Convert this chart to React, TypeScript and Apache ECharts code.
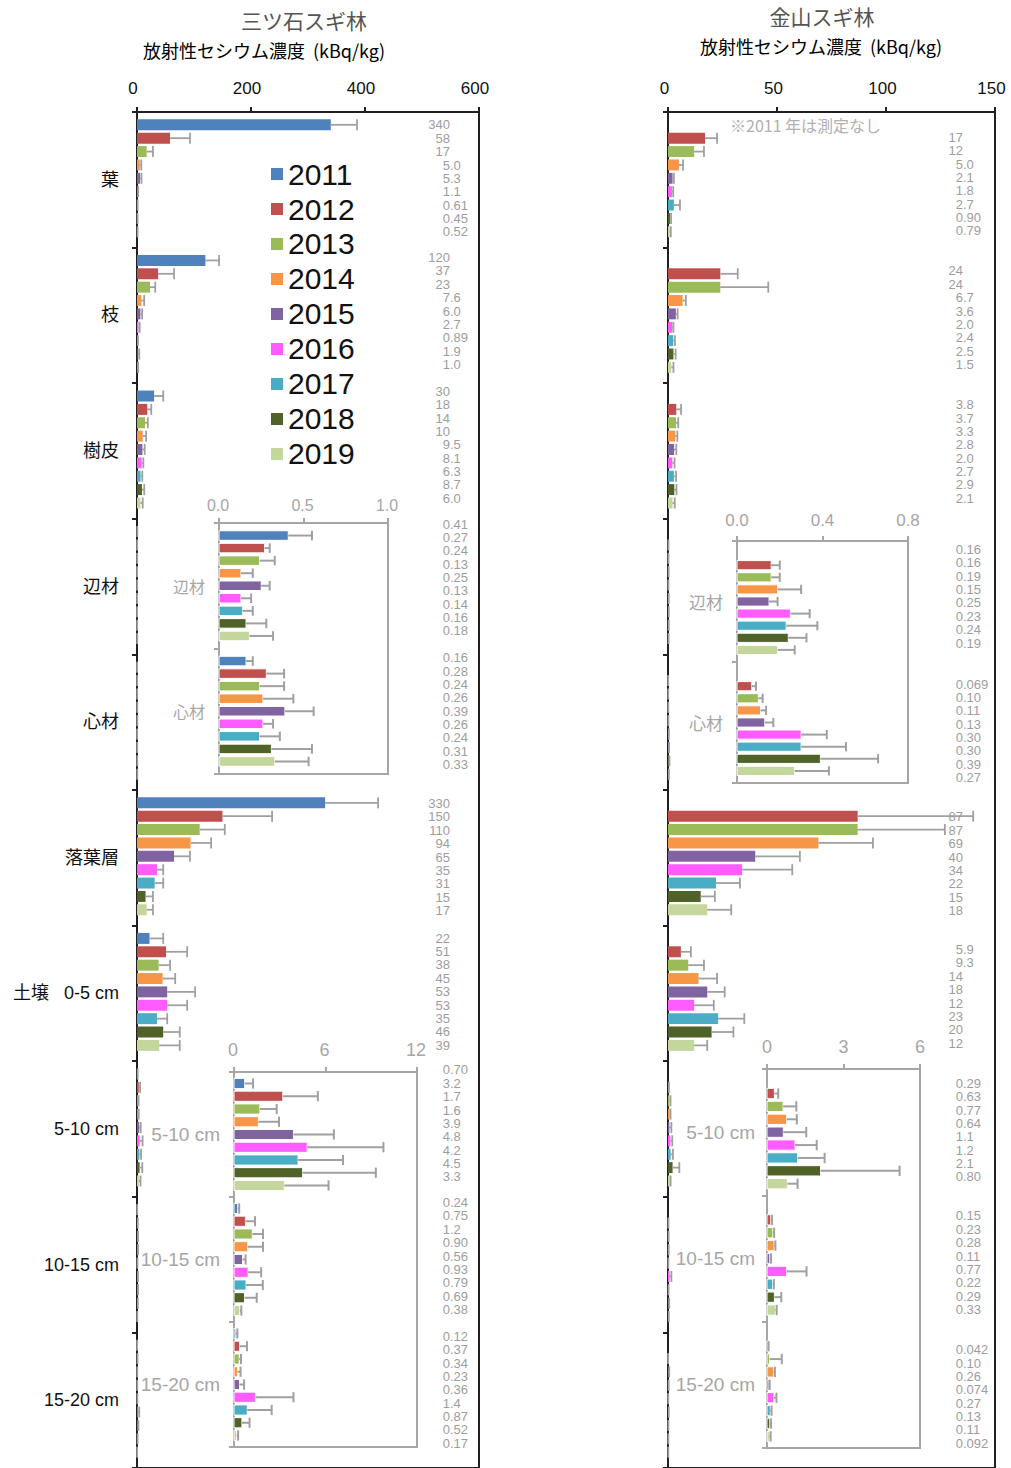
import React, { useEffect, useRef } from "react";
import * as echarts from "echarts";

// Survey years and their bar colours
const years = ["2011", "2012", "2013", "2014", "2015", "2016", "2017", "2018", "2019"];
const yearColors = ["#4f81bd", "#c0504d", "#9bbb59", "#f79646", "#8064a2", "#ff5cff", "#4bacc6", "#4f6228", "#c3d69b"];

// Sample compartments (rows of both panels)
const categories = ["葉", "枝", "樹皮", "辺材", "心材", "落葉層", "土壌   0-5 cm", "5-10 cm", "10-15 cm", "15-20 cm"];
const woodCategories = ["辺材", "心材"];
const woodRows = [3, 4];
const deepSoilCategories = ["5-10 cm", "10-15 cm", "15-20 cm"];
const deepSoilRows = [7, 8, 9];

// Axis ticks
const mitsuishiTicks = [0, 200, 400, 600];
const kanayamaTicks = [0, 50, 100, 150];
const mitsuishiWoodTicks = [0, 0.5, 1.0];
const kanayamaWoodTicks = [0, 0.4, 0.8];
const mitsuishiSoilTicks = [0, 6, 12];
const kanayamaSoilTicks = [0, 3, 6];

// 三ツ石スギ林: concentration (kBq/kg), one row per compartment, one column per year
const mitsuishiValues: (string | null)[][] = [
  ["340", "58", "17", "5.0", "5.3", "1.1", "0.61", "0.45", "0.52"],
  ["120", "37", "23", "7.6", "6.0", "2.7", "0.89", "1.9", "1.0"],
  ["30", "18", "14", "10", "9.5", "8.1", "6.3", "8.7", "6.0"],
  ["0.41", "0.27", "0.24", "0.13", "0.25", "0.13", "0.14", "0.16", "0.18"],
  ["0.16", "0.28", "0.24", "0.26", "0.39", "0.26", "0.24", "0.31", "0.33"],
  ["330", "150", "110", "94", "65", "35", "31", "15", "17"],
  ["22", "51", "38", "45", "53", "53", "35", "46", "39"],
  ["0.70", "3.2", "1.7", "1.6", "3.9", "4.8", "4.2", "4.5", "3.3"],
  ["0.24", "0.75", "1.2", "0.90", "0.56", "0.93", "0.79", "0.69", "0.38"],
  ["0.12", "0.37", "0.34", "0.23", "0.36", "1.4", "0.87", "0.52", "0.17"],
];
// 三ツ石スギ林: standard deviation
const mitsuishiErrors: (number | null)[][] = [
  [46, 35, 11, 2.5, 2.5, 1, 0.5, 0.5, 0.5],
  [24, 28, 9, 5, 3, 2, 0.8, 2, 1],
  [16, 7, 5, 6, 4, 3, 3, 4, 4],
  [0.14, 0.03, 0.09, 0.07, 0.05, 0.06, 0.06, 0.12, 0.14],
  [0.04, 0.105, 0.145, 0.18, 0.17, 0.06, 0.12, 0.24, 0.2],
  [93, 87, 44, 36, 28, 11, 15, 13, 11],
  [24, 37, 20, 22, 49, 35, 18, 29, 36],
  [0.55, 2.3, 1.1, 1.35, 2.65, 5.0, 2.95, 4.8, 2.9],
  [0.1, 0.63, 0.7, 1.0, 0.2, 0.85, 1.1, 0.8, 0.1],
  [0.1, 0.48, 0.12, 0.2, 0.3, 2.5, 1.6, 0.5, 0.1],
];

// 金山スギ林: no measurement in 2011
const kanayamaValues: (string | null)[][] = [
  [null, "17", "12", "5.0", "2.1", "1.8", "2.7", "0.90", "0.79"],
  [null, "24", "24", "6.7", "3.6", "2.0", "2.4", "2.5", "1.5"],
  [null, "3.8", "3.7", "3.3", "2.8", "2.0", "2.7", "2.9", "2.1"],
  [null, "0.16", "0.16", "0.19", "0.15", "0.25", "0.23", "0.24", "0.19"],
  [null, "0.069", "0.10", "0.11", "0.13", "0.30", "0.30", "0.39", "0.27"],
  [null, "87", "87", "69", "40", "34", "22", "15", "18"],
  [null, "5.9", "9.3", "14", "18", "12", "23", "20", "12"],
  [null, "0.29", "0.63", "0.77", "0.64", "1.1", "1.2", "2.1", "0.80"],
  [null, "0.15", "0.23", "0.28", "0.11", "0.77", "0.22", "0.29", "0.33"],
  [null, "0.042", "0.10", "0.26", "0.074", "0.27", "0.13", "0.11", "0.092"],
];
const kanayamaErrors: (number | null)[][] = [
  [null, 5.5, 4.5, 1.9, 0.6, 0.6, 2.8, 0.5, 0.5],
  [null, 8, 22, 1.5, 0.8, 0.5, 0.8, 1.0, 1.0],
  [null, 2.2, 1, 1, 1, 1, 1, 1, 1],
  [null, 0.04, 0.04, 0.11, 0.04, 0.09, 0.146, 0.085, 0.08],
  [null, 0.02, 0.02, 0.026, 0.04, 0.12, 0.21, 0.27, 0.16],
  [null, 53, 40, 25, 20.5, 23, 11, 6.5, 11],
  [null, 4.6, 7.2, 8.5, 8, 9, 12, 10, 6],
  [null, 0.15, 0.52, 0.4, 0.9, 0.85, 1.06, 3.1, 0.4],
  [null, 0.05, 0.05, 0.05, 0.05, 0.78, 0.05, 0.27, 0.05],
  [null, 0.02, 0.48, 0.05, 0.03, 0.1, 0.05, 0.05, 0.05],
];

const BLACK = "#231f20";
const GRAY = "#a6a6a6";
const ERR = "#a0a0a0";
const LATIN = "'Liberation Sans', 'Noto Sans CJK JP', sans-serif";
const JP = "'Noto Sans CJK JP', 'Liberation Sans', sans-serif";

type Layout = {
  step: number; // row pitch as a share of the category band
  thick: number; // bar thickness as a share of the row pitch
  shift: number;
  lineW: number;
  outline: boolean;
  labelX?: number;
  labelShift?: number[]; // vertical nudge of the value column, per compartment
};

function buildSeries(
  values: (string | null)[][],
  errors: (number | null)[][],
  rows: number[],
  axisIndex: number,
  layout: Layout
) {
  return years.map((year, j) => {
    const data: number[][] = [];
    const texts: string[] = [];
    rows.forEach((row, k) => {
      const s = values[row][j];
      if (s == null) return;
      data.push([Number(s), k, errors[row][j] ?? 0, j]);
      texts.push(s);
    });
    return {
      type: "custom",
      name: year,
      xAxisIndex: axisIndex,
      yAxisIndex: axisIndex,
      itemStyle: { color: yearColors[j] },
      encode: { x: 0, y: 1 },
      clip: false,
      silent: true,
      data,
      renderItem: (params: any, api: any) => {
        const v = api.value(0) as number;
        const k = api.value(1) as number;
        const err = api.value(2) as number;
        const jj = api.value(3) as number;
        const band = api.size([0, 1])[1];
        const step = band * layout.step;
        const base = api.coord([0, k]);
        const rowOffset = (jj - 4) * step;
        const y = base[1] + rowOffset + layout.shift;
        const h = step * layout.thick;
        const x0 = base[0];
        const x1 = api.coord([v, k])[0];
        const xe = api.coord([v + err, k])[0];
        const children: any[] = [
          {
            type: "rect",
            shape: { x: x0, y: y - h / 2, width: Math.max(x1 - x0, 0), height: h },
            style: layout.outline
              ? { fill: yearColors[jj], stroke: "#ffffff", lineWidth: 1 }
              : { fill: yearColors[jj] },
          },
        ];
        if (err > 0) {
          children.push(
            { type: "line", shape: { x1: x1, y1: y, x2: xe, y2: y }, style: { stroke: ERR, lineWidth: layout.lineW } },
            { type: "line", shape: { x1: xe, y1: y - h / 2, x2: xe, y2: y + h / 2 }, style: { stroke: ERR, lineWidth: layout.lineW } }
          );
        }
        if (layout.labelX != null) {
          const s = texts[params.dataIndex];
          const parts = s.split(".");
          const font = "13px " + LATIN;
          const ly = base[1] + rowOffset + (layout.labelShift ? layout.labelShift[k] : layout.shift);
          children.push({
            type: "text",
            x: layout.labelX,
            y: ly,
            style: { text: parts[0], align: "right", verticalAlign: "middle", fill: "#9d9d9d", font },
          });
          if (parts.length > 1) {
            children.push({
              type: "text",
              x: layout.labelX,
              y: ly,
              style: { text: "." + parts[1], align: "left", verticalAlign: "middle", fill: "#9d9d9d", font },
            });
          }
        }
        return { type: "group", children };
      },
    };
  });
}

function valueAxis(
  gridIndex: number,
  ticks: number[],
  main: boolean,
  digits: number,
  fontSize: number,
  margin: number,
  nudge: number
) {
  const color = main ? BLACK : GRAY;
  return {
    type: "value",
    gridIndex,
    position: "top",
    min: ticks[0],
    max: ticks[ticks.length - 1],
    interval: ticks[1] - ticks[0],
    splitLine: { show: false },
    axisLine: { show: true, lineStyle: { color, width: 2 } },
    axisTick: { show: true, inside: false, length: 5, lineStyle: { color, width: 2 } },
    axisLabel: {
      show: true,
      margin,
      fontSize,
      color: main ? "#111111" : GRAY,
      fontFamily: LATIN,
      padding: [0, nudge, 0, 0],
      formatter: (v: number) => v.toFixed(digits),
    },
  };
}

function categoryAxis(
  gridIndex: number,
  data: string[],
  main: boolean,
  showLabel: boolean,
  fontSize: number,
  margin: number,
  font: string
) {
  const color = main ? BLACK : GRAY;
  return {
    type: "category",
    gridIndex,
    inverse: true,
    data,
    axisLine: { show: true, lineStyle: { color, width: 2 } },
    axisTick: { show: true, inside: false, length: 5, alignWithLabel: false, lineStyle: { color, width: 2 } },
    axisLabel: {
      show: showLabel,
      margin,
      fontSize,
      color: main ? "#111111" : GRAY,
      fontFamily: font,
    },
  };
}

export default function App() {
  const ref = useRef<HTMLDivElement>(null);

  useEffect(() => {
    if (!ref.current) return;
    const chart = echarts.init(ref.current, null, { renderer: "svg" });

    const mainLayout = (labelX: number, labelShift: number[]): Layout => ({
      step: 0.0986,
      thick: 0.82,
      shift: -1.5,
      lineW: 1.8,
      outline: false,
      labelX,
      labelShift,
    });
    const woodLayout: Layout = { step: 0.1, thick: 0.76, shift: 0, lineW: 2, outline: true };
    const soilLayout: Layout = { step: 0.102, thick: 0.8, shift: 0, lineW: 2, outline: true };

    const allRows = categories.map((_, i) => i);

    const grids = [
      { left: 137, top: 112, width: 342, height: 1359, show: true, borderColor: BLACK, borderWidth: 2 },
      { left: 219, top: 523, width: 169, height: 251, show: true, borderColor: GRAY, borderWidth: 2 },
      { left: 234, top: 1072, width: 183, height: 375, show: true, borderColor: GRAY, borderWidth: 2 },
      { left: 668, top: 112, width: 327, height: 1359, show: true, borderColor: BLACK, borderWidth: 2 },
      { left: 737, top: 541, width: 171, height: 242, show: true, borderColor: GRAY, borderWidth: 2 },
      { left: 767, top: 1069, width: 153, height: 379, show: true, borderColor: GRAY, borderWidth: 2 },
    ];

    const xAxes = [
      valueAxis(0, mitsuishiTicks, true, 0, 17, 15, 8),
      valueAxis(1, mitsuishiWoodTicks, false, 1, 16, 10, 2),
      valueAxis(2, mitsuishiSoilTicks, false, 0, 18, 13, 2),
      valueAxis(3, kanayamaTicks, true, 0, 17, 15, 7),
      valueAxis(4, kanayamaWoodTicks, false, 1, 17, 12, 0),
      valueAxis(5, kanayamaSoilTicks, false, 0, 18, 13, 0),
    ];

    const yAxes = [
      categoryAxis(0, categories, true, true, 18, 18, LATIN),
      categoryAxis(1, woodCategories, false, true, 16, 14, JP),
      categoryAxis(2, deepSoilCategories, false, true, 19, 14, LATIN),
      categoryAxis(3, categories, true, false, 18, 18, LATIN),
      categoryAxis(4, woodCategories, false, true, 17, 14, JP),
      categoryAxis(5, deepSoilCategories, false, true, 19, 12, LATIN),
    ];

    const leftLabelShift = [-1.4, -4.3, -6.2, -9.1, -11, -0.8, -1.7, -5.6, -8.5, -10.4];
    const rightLabelShift = [-2.4, -4.3, -6.2, 3, 2, -0.8, -3.7, -5.6, -8.5, -10.4];

    const series = [
      ...buildSeries(mitsuishiValues, mitsuishiErrors, allRows, 0, mainLayout(450, leftLabelShift)),
      ...buildSeries(mitsuishiValues, mitsuishiErrors, woodRows, 1, woodLayout),
      ...buildSeries(mitsuishiValues, mitsuishiErrors, deepSoilRows, 2, soilLayout),
      ...buildSeries(kanayamaValues, kanayamaErrors, allRows, 3, mainLayout(963, rightLabelShift)),
      ...buildSeries(kanayamaValues, kanayamaErrors, woodRows, 4, woodLayout),
      ...buildSeries(kanayamaValues, kanayamaErrors, deepSoilRows, 5, soilLayout),
    ];

    const titleText = (text: string, x: number, y: number, size: number, color: string) => ({
      type: "text",
      x,
      y,
      silent: true,
      style: { text, align: "center", verticalAlign: "middle", fill: color, font: `${size}px ${JP}` },
    });

    chart.setOption({
      animation: false,
      backgroundColor: "#ffffff",
      grid: grids,
      xAxis: xAxes,
      yAxis: yAxes,
      legend: {
        data: years,
        orient: "vertical",
        left: 271,
        top: 159,
        padding: 0,
        itemWidth: 12,
        itemHeight: 12,
        itemGap: 5,
        icon: "rect",
        selectedMode: false,
        textStyle: { fontSize: 30, color: "#111111", fontFamily: LATIN },
      },
      graphic: [
        titleText("三ツ石スギ林", 304, 20, 21, "#555555"),
        titleText("放射性セシウム濃度  (kBq/kg)", 264, 50, 18, "#000000"),
        titleText("金山スギ林", 822, 16, 21, "#555555"),
        titleText("放射性セシウム濃度  (kBq/kg)", 821, 46, 18, "#000000"),
        {
          type: "text",
          x: 730,
          y: 125,
          silent: true,
          style: { text: "※2011 年は測定なし", align: "left", verticalAlign: "middle", fill: "#b0b0b0", font: `16px ${JP}` },
        },
      ],
      series,
    });

    return () => chart.dispose();
  }, []);

  return (
    <div
      ref={ref}
      style={{ position: "absolute", left: 0, top: 0, width: 1011, height: 1468, overflow: "hidden", background: "#fff" }}
    />
  );
}
